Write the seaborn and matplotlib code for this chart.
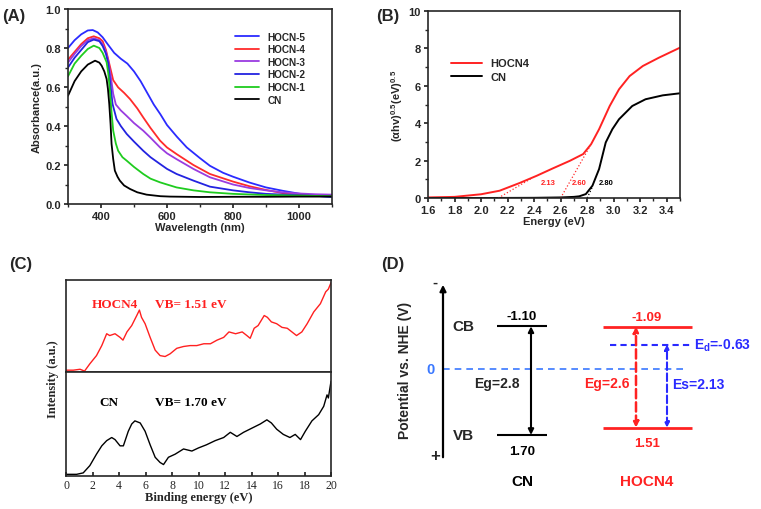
import pandas as pd
import seaborn as sns
import matplotlib.pyplot as plt
from matplotlib.ticker import MultipleLocator

# --- (A) UV-vis absorbance ---
wl_hocn5 = [300, 320, 340, 360, 375, 390, 405, 420, 440, 460, 480, 500, 520, 540, 560, 580, 600,
            630, 660, 700, 730, 770, 800, 850, 900, 950, 1000, 1050, 1100]
abs_hocn5 = [0.80, 0.84, 0.87, 0.89, 0.892, 0.88, 0.855, 0.82, 0.775, 0.745, 0.72, 0.68, 0.63, 0.57,
             0.51, 0.46, 0.405, 0.345, 0.29, 0.235, 0.196, 0.16, 0.14, 0.11, 0.085, 0.068, 0.053, 0.042, 0.036]
wl_hocn4 = [300, 320, 340, 360, 378, 395, 405, 415, 425, 437, 452, 470, 488, 510, 528, 550, 579, 600,
            629, 680, 730, 800, 850, 900, 950, 1000, 1050, 1100]
abs_hocn4 = [0.74, 0.78, 0.82, 0.85, 0.86, 0.85, 0.835, 0.79, 0.72, 0.635, 0.598, 0.57, 0.538, 0.49,
             0.444, 0.39, 0.325, 0.29, 0.256, 0.20, 0.154, 0.115, 0.091, 0.072, 0.056, 0.047, 0.043, 0.04]
wl_hocn3 = [300, 320, 340, 360, 378, 395, 405, 415, 422, 430, 437, 445, 460, 477, 500, 528, 550, 579,
            600, 629, 680, 730, 800, 850, 900, 950, 1000, 1050, 1100]
abs_hocn3 = [0.725, 0.77, 0.81, 0.84, 0.85, 0.84, 0.82, 0.78, 0.735, 0.65, 0.565, 0.51, 0.48, 0.453,
             0.415, 0.376, 0.34, 0.29, 0.26, 0.23, 0.18, 0.137, 0.10, 0.082, 0.07, 0.06, 0.054, 0.05, 0.048]
wl_hocn2 = [300, 320, 340, 360, 378, 395, 405, 415, 422, 428, 435, 447, 460, 478, 500, 528, 550, 579,
            600, 629, 680, 730, 800, 850, 900, 1000, 1100]
abs_hocn2 = [0.70, 0.75, 0.79, 0.83, 0.843, 0.835, 0.81, 0.77, 0.72, 0.62, 0.513, 0.436, 0.40, 0.359,
             0.32, 0.273, 0.24, 0.205, 0.18, 0.154, 0.12, 0.089, 0.07, 0.06, 0.052, 0.045, 0.038]
wl_hocn1 = [300, 320, 340, 360, 378, 395, 405, 417, 422, 427, 432, 437, 445, 452, 465, 478, 500, 528,
            550, 579, 600, 629, 680, 730, 800, 900, 1000, 1100]
abs_hocn1 = [0.655, 0.72, 0.76, 0.795, 0.812, 0.80, 0.775, 0.727, 0.67, 0.58, 0.47, 0.376, 0.31, 0.273,
             0.24, 0.222, 0.19, 0.154, 0.13, 0.111, 0.10, 0.085, 0.07, 0.06, 0.052, 0.046, 0.043, 0.04]
wl_cn = [300, 320, 340, 360, 382, 395, 402, 410, 417, 421, 425, 429, 432, 437, 442, 450, 457, 470,
         488, 510, 538, 580, 609, 700, 800, 900, 1000, 1100]
abs_cn = [0.555, 0.63, 0.68, 0.715, 0.735, 0.725, 0.709, 0.68, 0.641, 0.59, 0.513, 0.41, 0.308, 0.23,
          0.171, 0.14, 0.12, 0.095, 0.077, 0.06, 0.048, 0.04, 0.038, 0.036, 0.037, 0.037, 0.038, 0.038]

names_a = ["HOCN-5", "HOCN-4", "HOCN-3", "HOCN-2", "HOCN-1", "CN"]
colors_a = ["#2b2bff", "#ff2b2b", "#9a3ce0", "#2323e0", "#1fcc1f", "#000000"]
wl_a = [wl_hocn5, wl_hocn4, wl_hocn3, wl_hocn2, wl_hocn1, wl_cn]
abs_a = [abs_hocn5, abs_hocn4, abs_hocn3, abs_hocn2, abs_hocn1, abs_cn]

# --- (B) Tauc plot ---
e_tauc_hocn4 = [1.6, 1.8, 2.0, 2.14, 2.29, 2.42, 2.54, 2.67, 2.77, 2.83, 2.89, 2.97, 3.04, 3.12,
                3.22, 3.34, 3.5]
tauc_hocn4 = [0.03, 0.06, 0.2, 0.39, 0.8, 1.19, 1.58, 1.99, 2.35, 2.88, 3.68, 4.92, 5.81, 6.52,
              7.06, 7.5, 8.04]
e_tauc_cn = [1.6, 2.0, 2.4, 2.6, 2.7, 2.74, 2.79, 2.84, 2.89, 2.94, 2.99, 3.04, 3.14, 3.24, 3.37, 3.5]
tauc_cn = [0.0, 0.0, 0.01, 0.03, 0.06, 0.09, 0.21, 0.66, 1.55, 2.97, 3.68, 4.21, 4.92, 5.28, 5.49, 5.6]
tangent_x0 = [2.13, 2.60, 2.80]
tangent_x1 = [2.38, 2.83, 2.84]
tangent_y1 = [1.05, 2.88, 0.60]
tangent_labels = ["2.13", "2.60", "2.80"]
tangent_colors = ["#ff2b2b", "#ff2b2b", "#000000"]

# --- (C) VB-XPS ---
be_hocn4 = [0, 0.55, 1.06, 1.4, 1.8, 2.3, 2.7, 3.07, 3.3, 3.7, 4.08, 4.3, 4.6, 4.96, 5.34, 5.54, 5.7,
            5.97, 6.35, 6.73, 7.1, 7.48, 7.86, 8.36, 8.87, 9.37, 9.87, 10.4, 10.9, 11.4, 11.9, 12.3,
            12.8, 13.3, 13.65, 13.9, 14.2, 14.5, 14.96, 15.2, 15.5, 15.9, 16.3, 16.7, 17.05, 17.4,
            17.8, 18.2, 18.7, 19.2, 19.6, 19.8, 20]
int_hocn4 = [1, 1, 2, 0, 8, 17, 28, 41, 39, 41, 37, 34, 43, 50, 61, 67, 59, 52, 37, 23, 17, 16, 19,
             25, 27, 28, 28, 30, 30, 34, 37, 43, 41, 43, 39, 36, 47, 50, 61, 59, 54, 52, 48, 47, 43,
             39, 43, 52, 65, 74, 87, 90, 97]
be_cn = [0, 0.8, 1.3, 1.8, 2.3, 2.7, 3.07, 3.45, 3.7, 4.08, 4.33, 4.7, 4.96, 5.2, 5.6, 5.97, 6.35,
         6.73, 7.1, 7.36, 7.73, 8.24, 8.87, 9.5, 10, 10.6, 11.26, 11.9, 12.4, 12.9, 13.4, 14.03, 14.66,
         15.16, 15.5, 15.9, 16.4, 16.9, 17.3, 17.7, 18.06, 18.56, 19.07, 19.45, 19.7, 19.8, 20]
int_cn = [1.6, 1.6, 3, 10, 21, 29, 34, 37, 35, 29, 29, 43, 50, 53, 51, 43, 30, 18, 13, 11, 18, 21,
          26, 24, 27, 30, 34, 37, 42, 38, 42, 46, 50, 54, 51, 45, 40, 37, 40, 35, 43, 53, 59, 67,
          78, 75, 91]

# --- (D) band structure ---
materials = ["CN", "HOCN4"]
cb = [-1.10, -1.09]
vb = [1.70, 1.51]
eg = [2.8, 2.6]
ed = -0.63
es = 2.13

RED = "#ff2222"
BLUE = "#2a2aff"

sns.set_theme(style="ticks")
plt.rcParams['font.family'] = ['Liberation Sans', 'DejaVu Sans']
plt.rcParams['font.weight'] = 'bold'
plt.rcParams['axes.labelweight'] = 'bold'
plt.rcParams['axes.linewidth'] = 1.2
plt.rcParams['mathtext.default'] = 'regular'
plt.rcParams['xtick.major.size'] = 3
plt.rcParams['ytick.major.size'] = 3
plt.rcParams['xtick.minor.size'] = 2
plt.rcParams['ytick.minor.size'] = 2
plt.rcParams['xtick.major.pad'] = 2
plt.rcParams['ytick.major.pad'] = 2

W, H = 761, 510
fig = plt.figure(figsize=(W / 100, H / 100), dpi=100)


def px_axes(left, top, right, bottom):
    return fig.add_axes([left / W, 1 - bottom / H, (right - left) / W, (bottom - top) / H])


# --- (A) ---
ax_a = px_axes(68, 10, 332, 205)
df_a = pd.concat([pd.DataFrame({"wl": w, "abs": a, "sample": n})
                  for n, w, a in zip(names_a, wl_a, abs_a)])
sns.lineplot(data=df_a, x="wl", y="abs", hue="sample", hue_order=names_a,
             palette=dict(zip(names_a, colors_a)), estimator=None, sort=False, lw=1.3, ax=ax_a)
ax_a.set_xlim(300, 1100)
ax_a.set_ylim(0, 1.0)
ax_a.set_xticks([400, 600, 800, 1000])
ax_a.xaxis.set_minor_locator(MultipleLocator(100))
ax_a.yaxis.set_major_locator(MultipleLocator(0.2))
ax_a.yaxis.set_minor_locator(MultipleLocator(0.1))
ax_a.set_xlabel("Wavelength (nm)", fontsize=8, labelpad=1)
ax_a.set_ylabel("Absorbance(a.u.)", fontsize=8, labelpad=3)
ax_a.tick_params(labelsize=8)
sns.move_legend(ax_a, "upper left", bbox_to_anchor=(0.6, 0.93), frameon=False, title=None,
                fontsize=7.2, handlelength=2.4, labelspacing=0.26, handletextpad=0.8)

# --- (B) ---
ax_b = px_axes(428, 12, 680, 199)
df_b = pd.concat([pd.DataFrame({"e": e_tauc_hocn4, "v": tauc_hocn4, "sample": "HOCN4"}),
                  pd.DataFrame({"e": e_tauc_cn, "v": tauc_cn, "sample": "CN"})])
sns.lineplot(data=df_b, x="e", y="v", hue="sample", hue_order=["HOCN4", "CN"],
             palette={"HOCN4": RED, "CN": "black"}, estimator=None, sort=False, lw=1.4, ax=ax_b)
for x0, x1, y1, lab, c in zip(tangent_x0, tangent_x1, tangent_y1, tangent_labels, tangent_colors):
    ax_b.plot([x0, x1], [0, y1], ls=":", lw=0.9, color=c)
ax_b.text(2.45, 0.75, tangent_labels[0], color=RED, fontsize=5.5)
ax_b.text(2.685, 0.75, tangent_labels[1], color=RED, fontsize=5.5)
ax_b.text(2.885, 0.75, tangent_labels[2], color="black", fontsize=5.5)
ax_b.set_xlim(1.6, 3.5)
ax_b.set_ylim(0, 10)
ax_b.xaxis.set_major_locator(MultipleLocator(0.2))
ax_b.xaxis.set_minor_locator(MultipleLocator(0.1))
ax_b.yaxis.set_major_locator(MultipleLocator(2))
ax_b.yaxis.set_minor_locator(MultipleLocator(1))
ax_b.set_xlabel("Energy (eV)", fontsize=8, labelpad=1)
ax_b.set_ylabel("(αhv)$^{0.5}$(eV)$^{0.5}$", fontsize=8, labelpad=3)
ax_b.tick_params(labelsize=8)
sns.move_legend(ax_b, "upper left", bbox_to_anchor=(0.05, 0.8), frameon=False, title=None,
                fontsize=8, handlelength=2.8, labelspacing=0.3, handletextpad=0.8)

# --- (C) ---
serif = ['Liberation Serif', 'DejaVu Serif']
ax_c1 = px_axes(66, 281, 331, 373)
ax_c2 = px_axes(66, 373, 331, 477)
sns.lineplot(x=be_hocn4, y=int_hocn4, color="#ff2020", lw=1.0, sort=False, ax=ax_c1)
sns.lineplot(x=be_cn, y=int_cn, color="black", lw=1.0, sort=False, ax=ax_c2)
for ax in (ax_c1, ax_c2):
    ax.set_xlim(0, 20)
    ax.set_yticks([])
    ax.set_ylabel("")
ax_c1.set_ylim(-1, 100)
ax_c2.set_ylim(0, 100)
ax_c1.set_xticks([])
ax_c2.set_xticks(range(0, 21, 2))
ax_c2.tick_params(axis="x", direction="in", labelsize=8.5, pad=2)
for t in ax_c2.get_xticklabels():
    t.set_family(serif)
    t.set_weight("normal")
ax_c2.set_xlabel("Binding energy (eV)", fontsize=9, family=serif, labelpad=0)
fig.text(53 / W, 1 - 379 / H, "Intensity (a.u.)", rotation=90, ha="center", va="center",
         fontsize=9, family=serif)
ax_c1.text(1.95, 74, "HOCN4", color="#ff2020", fontsize=9.5, family=serif, va="center")
ax_c1.text(6.7, 74, "VB= 1.51 eV", color="#ff2020", fontsize=9.5, family=serif, va="center")
ax_c2.text(2.55, 71, "CN", color="black", fontsize=9.5, family=serif, va="center")
ax_c2.text(6.7, 71, "VB= 1.70 eV", color="black", fontsize=9.5, family=serif, va="center")

# --- (D) ---
ax_d = px_axes(443, 283, 761, 461)
ax_d.set_xlim(-0.632, 1.912)
ax_d.set_ylim(2.345, -2.242)
ax_d.axis("off")
xs = range(len(materials))
half = [0.2, 0.356]
lw_lvl = [1.5, 2.0]
col_lvl = ["black", RED]
sns.lineplot(x=[-0.632, 1.32], y=[0, 0], color="#3a78ff", lw=1.2, ls=(0, (4, 3)), ax=ax_d)
for i in xs:
    for lvl in (cb[i], vb[i]):
        ax_d.hlines(lvl, i - half[i], i + half[i], color=col_lvl[i], lw=lw_lvl[i])
    ax_d.annotate(f"{cb[i]:.2f}", (i, cb[i]), xytext=(0, 3), textcoords="offset points",
                  ha="center", va="bottom", fontsize=9.5, color=col_lvl[i])
    ax_d.annotate(f"{vb[i]:.2f}", (i, vb[i]), xytext=(0, -7), textcoords="offset points",
                  ha="center", va="top", fontsize=9.5, color=col_lvl[i])
    ax_d.text(i, -0.12, materials[i], transform=ax_d.get_xaxis_transform(), ha="center",
              va="center", fontsize=11, color=col_lvl[i])

# potential axis
ax_d.annotate("", xy=(0, 1.0), xytext=(0, 0), xycoords="axes fraction",
              arrowprops=dict(arrowstyle="-|>", lw=1.6, color="black", mutation_scale=9))
ax_d.text(-0.025, 1.0, "-", transform=ax_d.transAxes, ha="center", va="center", fontsize=11)
ax_d.text(-0.025, 0.025, "+", transform=ax_d.transAxes, ha="center", va="center", fontsize=12)
ax_d.text(-0.119, 0.511, "Potential vs. NHE (V)", transform=ax_d.transAxes, rotation=90,
          ha="center", va="center", fontsize=10)
ax_d.text(-0.73, 0, "0", color="#3a78ff", ha="center", va="center", fontsize=10.5, clip_on=False)
ax_d.text(-0.47, cb[0], "CB", ha="center", va="center", fontsize=11)
ax_d.text(-0.47, vb[0], "VB", ha="center", va="center", fontsize=11)

# CN gap arrow
ax_d.annotate("", xy=(0.072, cb[0]), xytext=(0.072, vb[0]),
              arrowprops=dict(arrowstyle="<|-|>", lw=1.5, color="black", mutation_scale=8,
                              shrinkA=0, shrinkB=0))
ax_d.text(-0.2, (cb[0] + vb[0]) / 2 + 0.05, f"Eg={eg[0]}", ha="center", va="center", fontsize=10)

# HOCN4 gap arrows
ax_d.annotate("", xy=(0.912, cb[1]), xytext=(0.912, vb[1]),
              arrowprops=dict(arrowstyle="<|-|>", lw=1.8, color=RED, ls="--", mutation_scale=8,
                              shrinkA=0, shrinkB=0))
ax_d.text(0.864, (cb[1] + vb[1]) / 2 + 0.15, f"Eg={eg[1]}", ha="right", va="center",
          fontsize=10, color=RED)
ax_d.hlines(ed, 0.704, 1.368, color=BLUE, lw=1.5, ls=(0, (3, 2)))
ax_d.text(1.376, ed, "E$_{d}$=-0.63", ha="left", va="center", fontsize=10, color=BLUE,
          clip_on=False)
ax_d.annotate("", xy=(1.16, ed), xytext=(1.16, vb[1]),
              arrowprops=dict(arrowstyle="<|-|>", lw=1.5, color=BLUE, ls="--", mutation_scale=7,
                              shrinkA=0, shrinkB=0))
ax_d.text(1.2, (ed + vb[1]) / 2 - 0.05, f"Es={es}", ha="left", va="center", fontsize=10,
          color=BLUE)

# panel letters
for lab, x, y in [("(A)", 14, 16), ("(B)", 388, 16), ("(C)", 21, 265), ("(D)", 393, 265)]:
    fig.text(x / W, 1 - y / H, lab, ha="center", va="center", fontsize=12)

fig.savefig("out.png", dpi=100)
